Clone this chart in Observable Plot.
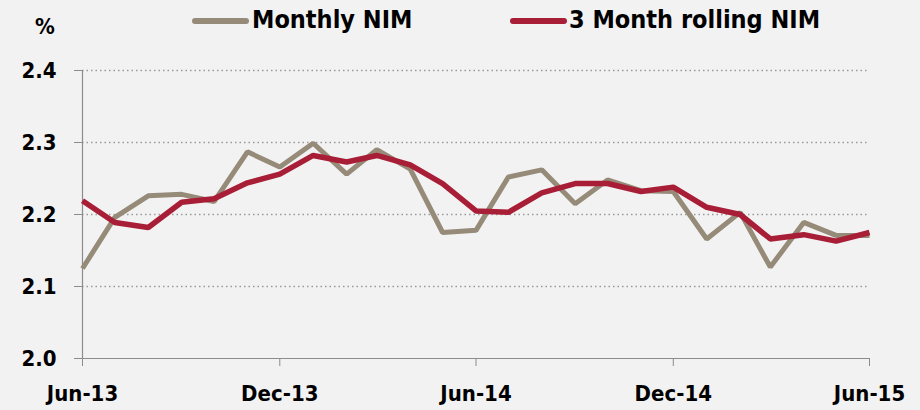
<!DOCTYPE html>
<html>
<head>
<meta charset="utf-8">
<script src="https://cdn.jsdelivr.net/npm/d3@7"></script>
<script src="https://cdn.jsdelivr.net/npm/@observablehq/plot@0.6"></script>
<style>
  html, body { margin: 0; padding: 0; background: #f2f2f2; }
  #wrap { position: relative; width: 920px; height: 410px; overflow: hidden; background: #f2f2f2;
    font-family: "Liberation Sans Narrow", "DejaVu Sans Condensed", "Liberation Sans", sans-serif; font-weight: bold; color: #000; }
  #head { position: relative; height: 50px; }
  .lab { position: absolute; font-size: 25px; line-height: 1; white-space: nowrap; }
  .sw { position: absolute; height: 6px; border-radius: 3px; }
  svg { display: block; }
</style>
</head>
<body>
<div id="wrap">
  <div id="head">
    <div class="lab" style="left:35px; top:16px; font-size:22px;">%</div>
    <div class="sw" id="sw1" style="left:192px; top:18px; width:57px;"></div>
    <div class="lab" id="l1" style="left:252px; top:7px;"></div>
    <div class="sw" id="sw2" style="left:510px; top:18px; width:57px;"></div>
    <div class="lab" id="l2" style="left:569px; top:7px;"></div>
  </div>
  <div id="chart"></div>
</div>
<script>
const months = ["2013-06","2013-07","2013-08","2013-09","2013-10","2013-11","2013-12",
  "2014-01","2014-02","2014-03","2014-04","2014-05","2014-06","2014-07","2014-08","2014-09",
  "2014-10","2014-11","2014-12","2015-01","2015-02","2015-03","2015-04","2015-05","2015-06"];
const monthlyNIM = [2.125,2.196,2.226,2.228,2.218,2.287,2.266,2.299,2.256,2.290,2.263,2.175,2.178,
  2.252,2.262,2.215,2.248,2.233,2.232,2.166,2.203,2.127,2.189,2.171,2.171];
const rollingNIM = [2.219,2.189,2.182,2.217,2.222,2.244,2.256,2.282,2.273,2.282,2.269,2.243,2.205,
  2.203,2.230,2.243,2.243,2.232,2.238,2.210,2.200,2.166,2.172,2.163,2.175];
const seriesNames = ["Monthly NIM", "3 Month rolling NIM"];
const seriesColors = ["#968a78", "#a81e36"];
const yTicks = [2.0, 2.1, 2.2, 2.3, 2.4];
const xTickMonths = ["2013-06","2013-12","2014-06","2014-12","2015-06"];
const xTickLabels = ["Jun-13","Dec-13","Jun-14","Dec-14","Jun-15"];

document.getElementById("l1").textContent = seriesNames[0];
document.getElementById("l2").textContent = seriesNames[1];
document.getElementById("sw1").style.background = seriesColors[0];
document.getElementById("sw2").style.background = seriesColors[1];

const parse = d3.utcParse("%Y-%m");
const rows = months.map((m, i) => ({date: parse(m), monthly: monthlyNIM[i], rolling: rollingNIM[i]}));
const xTicks = xTickMonths.map(parse);
const labelOf = new Map(xTickMonths.map((m, i) => [+parse(m), xTickLabels[i]]));

const chart = Plot.plot({
  width: 920,
  height: 360,
  marginLeft: 82,
  marginRight: 51,
  marginTop: 20,
  marginBottom: 52,
  style: {background: "#f2f2f2", fontFamily: "\"Liberation Sans Narrow\", \"DejaVu Sans Condensed\", sans-serif", fontWeight: "bold", fontSize: "22px", color: "#000"},
  x: {type: "utc", domain: [parse(months[0]), parse(months[months.length - 1])]},
  y: {domain: [2.0, 2.4]},
  marks: [
    Plot.ruleY(yTicks.filter(v => v > 2.0), {stroke: "#9a9a9a", strokeWidth: 1.5, strokeDasharray: "1.5,3"}),
    Plot.ruleY([2.0], {stroke: "#8c8c8c", strokeWidth: 1.2}),
    Plot.ruleX([parse(months[0])], {stroke: "#8c8c8c", strokeWidth: 1.2}),
    Plot.axisY({ticks: yTicks, tickFormat: d3.format(".1f"), tickSize: 8, tickPadding: 18, stroke: "#8c8c8c", fill: "#000", fontSize: 22, label: null}),
    Plot.axisX({ticks: xTicks, tickFormat: d => labelOf.get(+d), tickSize: 8, tickPadding: 19, stroke: "#8c8c8c", fill: "#000", fontSize: 22, label: null}),
    Plot.line(rows, {x: "date", y: "monthly", stroke: seriesColors[0], strokeWidth: 5, strokeLinejoin: "miter", strokeLinecap: "butt"}),
    Plot.line(rows, {x: "date", y: "rolling", stroke: seriesColors[1], strokeWidth: 5.5, strokeLinejoin: "miter", strokeLinecap: "butt"})
  ]
});
document.getElementById("chart").appendChild(chart);
</script>
</body>
</html>
